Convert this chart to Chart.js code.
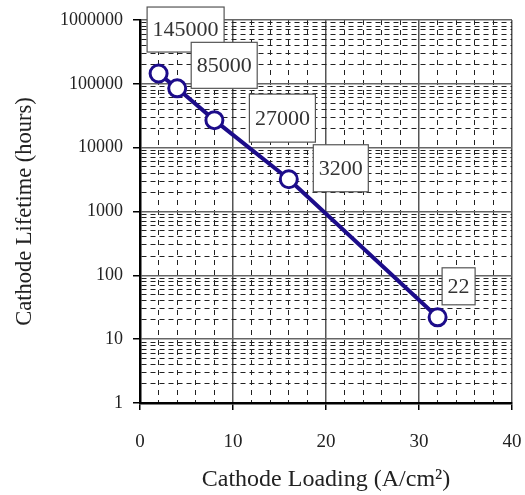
<!DOCTYPE html>
<html>
<head>
<meta charset="utf-8">
<script src="https://cdn.jsdelivr.net/npm/chart.js@4/dist/chart.umd.min.js"></script>
<style>
  html, body { margin: 0; padding: 0; background: #fff; }
</style>
</head>
<body>
<canvas id="lifetime-chart" width="525" height="495"></canvas>
<script>
// values
const loading = [2, 4, 8, 16, 32];
const lifetime = [145000, 85000, 27000, 3200, 22];
const pointLabels = ['145000', '85000', '27000', '3200', '22'];
const xTickLabels = ['0', '10', '20', '30', '40'];
const yTickLabels = ['1', '10', '100', '1000', '10000', '100000', '1000000'];

// where each callout box sits relative to its point, and its height
const boxOffsets = [[27, -44], [47, -23], [68, -2], [52, -11], [21, -31]];
const boxHeights = [45, 46, 48, 47, 37];

const serif = '"Liberation Serif", "Times New Roman", serif';
const navy = '#1c0c8a';

function isDecade(v) {
    const l = Math.log10(v);
    return Math.abs(l - Math.round(l)) < 1e-9;
}

const calloutBoxes = {
    id: 'calloutBoxes',
    afterDatasetsDraw(chart) {
        const ctx = chart.ctx;
        const meta = chart.getDatasetMeta(0);
        ctx.save();
        ctx.font = '22px ' + serif;
        ctx.textAlign = 'center';
        ctx.textBaseline = 'middle';
        meta.data.forEach((pt, i) => {
            const cx = pt.x + boxOffsets[i][0];
            const cy = pt.y + boxOffsets[i][1];
            const w = ctx.measureText(pointLabels[i]).width + 11;
            const h = boxHeights[i];
            ctx.fillStyle = '#fff';
            ctx.fillRect(cx - w / 2, cy - h / 2, w, h);
            ctx.strokeStyle = '#555';
            ctx.lineWidth = 1.2;
            ctx.strokeRect(cx - w / 2, cy - h / 2, w, h);
            ctx.fillStyle = '#333';
            ctx.fillText(pointLabels[i], cx, cy + 1);
        });
        ctx.restore();
    }
};

const ctx = document.getElementById('lifetime-chart').getContext('2d');

new Chart(ctx, {
    type: 'line',
    data: {
        datasets: [{
            data: loading.map((x, i) => ({ x: x, y: lifetime[i] })),
            borderColor: navy,
            borderWidth: 4,
            pointRadius: 8.5,
            pointBorderWidth: 3,
            pointBorderColor: navy,
            pointBackgroundColor: '#fff',
            tension: 0
        }]
    },
    options: {
        responsive: false,
        animation: false,
        layout: { padding: { top: 20, right: 13, left: 0, bottom: 0 } },
        plugins: {
            legend: { display: false },
            tooltip: { enabled: false }
        },
        scales: {
            x: {
                type: 'linear',
                min: 0,
                max: 40,
                afterFit: (scale) => {
                    scale.height = 92;
                    scale.paddingLeft = 0;
                    scale.paddingRight = 0;
                },
                ticks: {
                    stepSize: 2,
                    autoSkip: false,
                    maxRotation: 0,
                    padding: 21,
                    color: '#222',
                    font: { family: serif, size: 19 },
                    callback: (v) => (v % 10 === 0 ? xTickLabels[v / 10] : '')
                },
                grid: {
                    tickLength: 7,
                    color: (c) => (c.tick && c.tick.value % 10 === 0 ? '#555' : '#222'),
                    lineWidth: (c) => (c.tick && c.tick.value % 10 === 0 ? 1.5 : 1),
                    tickColor: (c) => (c.tick && c.tick.value % 10 === 0 ? '#000' : 'rgba(0,0,0,0)')
                },
                border: {
                    color: '#000',
                    width: 2.5,
                    dash: (c) => (c.tick && c.tick.value % 10 !== 0 ? [5, 5] : [])
                },
                title: {
                    display: true,
                    text: 'Cathode Loading (A/cm²)',
                    color: '#222',
                    font: { family: serif, size: 24 },
                    padding: { top: 0, bottom: 1 }
                }
            },
            y: {
                type: 'logarithmic',
                min: 1,
                max: 1000000,
                afterFit: (scale) => {
                    scale.width = 140;
                    scale.paddingTop = 0;
                    scale.paddingBottom = 0;
                },
                afterBuildTicks: (scale) => {
                    const ticks = [];
                    for (let d = 0; d < yTickLabels.length; d++) {
                        const base = Math.pow(10, d);
                        ticks.push({ value: base });
                        if (d < yTickLabels.length - 1) {
                            for (let m = 2; m <= 9; m++) ticks.push({ value: m * base });
                        }
                    }
                    scale.ticks = ticks;
                },
                ticks: {
                    autoSkip: false,
                    padding: 10,
                    color: '#222',
                    font: { family: serif, size: 18 },
                    callback: (v) => (isDecade(v) ? yTickLabels[Math.round(Math.log10(v))] : '')
                },
                grid: {
                    tickLength: 7,
                    color: (c) => (c.tick && isDecade(c.tick.value) ? '#666' : '#222'),
                    lineWidth: (c) => (c.tick && isDecade(c.tick.value) ? 1.5 : 1),
                    tickColor: (c) => (c.tick && isDecade(c.tick.value) ? '#000' : 'rgba(0,0,0,0)')
                },
                border: {
                    color: '#000',
                    width: 2.5,
                    dash: (c) => (c.tick && !isDecade(c.tick.value) ? [5, 4] : [])
                },
                title: {
                    display: true,
                    text: 'Cathode Lifetime (hours)',
                    color: '#222',
                    font: { family: serif, size: 22.5 },
                    padding: { top: 11.5, bottom: 0 }
                }
            }
        }
    },
    plugins: [calloutBoxes]
});
</script>
</body>
</html>
